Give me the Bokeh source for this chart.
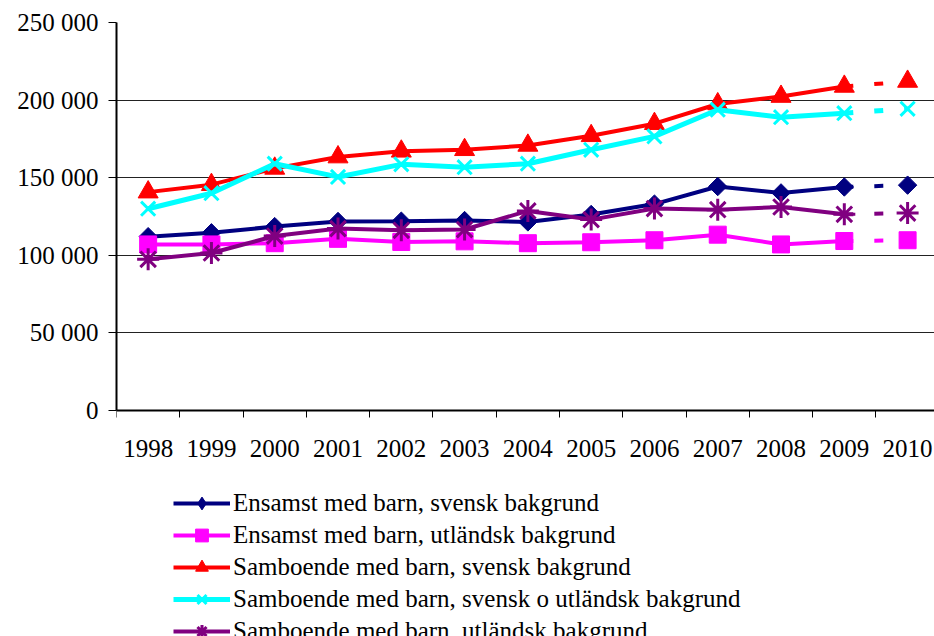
from bokeh.plotting import figure
from bokeh.models import FixedTicker, Legend, LegendItem, Range1d
from bokeh.embed import file_html
from bokeh.resources import INLINE
import math

years = ["1998", "1999", "2000", "2001", "2002", "2003", "2004", "2005", "2006", "2007", "2008", "2009", "2010"]

ensamst_svensk = [112000, 114500, 118500, 121800, 122000, 122400, 121500, 126300, 133000, 144300, 140200, 144000, 145200]
ensamst_utl = [107000, 107000, 107800, 110600, 108600, 109000, 107800, 108400, 109700, 113300, 107000, 109200, 109700]
sambo_svensk = [140700, 145500, 156000, 163300, 167000, 168000, 170800, 177000, 184800, 197500, 202300, 208800, 212000]
sambo_blandad = [130000, 140000, 159000, 150500, 158600, 156800, 159000, 168000, 176600, 193800, 189000, 191600, 194400]
sambo_utl = [97400, 101500, 112400, 117200, 116100, 116600, 128600, 123000, 130100, 129400, 131100, 126400, 127200]

series_names = [
    "Ensamst med barn, svensk bakgrund",
    "Ensamst med barn, utländsk bakgrund",
    "Samboende med barn, svensk bakgrund",
    "Samboende med barn, svensk o utländsk bakgrund",
    "Samboende med barn, utländsk bakgrund",
]
series_values = [ensamst_svensk, ensamst_utl, sambo_svensk, sambo_blandad, sambo_utl]

y_ticks = [0, 50000, 100000, 150000, 200000, 250000]
y_labels = ["0", "50 000", "100 000", "150 000", "200 000", "250 000"]

colors = ["#000080", "#FF00FF", "#FF0000", "#00FFFF", "#800080"]
markers = ["square", "square", "triangle", "x", "asterisk"]
legend_markers = ["diamond", "square", "triangle", "x", "asterisk"]
angles = [math.pi / 4, 0, 0, 0, 0]
sizes = [13, 17, 20, 20, 22]
line_widths = [4, 4, 4, 5, 4]
marker_lw = [1, 1, 1, 3, 3]

FONT = "Liberation Serif"

# layout (pixels)
W, H = 934, 636
FRAME_LEFT, FRAME_TOP = 116, 22
ZERO_Y = 410  # pixel row of the value 0
px_per_val = (ZERO_Y - FRAME_TOP) / 250000
y_start = -(H - ZERO_Y) / px_per_val

n = len(years)
xs = [i + 0.5 for i in range(n)]

p = figure(width=W, height=H, output_backend="svg", toolbar_location=None,
           x_range=Range1d(0, 12.925), y_range=Range1d(y_start, 250000),
           min_border_left=FRAME_LEFT, min_border_right=0, min_border_top=FRAME_TOP, min_border_bottom=0)
p.outline_line_color = None
p.background_fill_color = "white"
p.border_fill_color = "white"

# y axis
p.yaxis.ticker = FixedTicker(ticks=y_ticks)
p.yaxis.bounds = (0, 250000)
p.yaxis.major_label_overrides = {t: l for t, l in zip(y_ticks, y_labels)}
p.yaxis.major_label_text_font = FONT
p.yaxis.major_label_text_font_size = "25px"
p.yaxis.major_label_text_color = "black"
p.yaxis.major_tick_out = 8
p.yaxis.major_tick_in = 0
p.yaxis.minor_tick_line_color = None
p.yaxis.major_label_standoff = 10
p.yaxis.axis_line_width = 2
p.yaxis.axis_line_color = "black"
p.yaxis.major_tick_line_color = "black"

# x axis, drawn at the value 0
p.xaxis.fixed_location = 0
p.xaxis.ticker = FixedTicker(ticks=xs, minor_ticks=list(range(n)))
p.xaxis.major_label_overrides = {x: y for x, y in zip(xs, years)}
p.xaxis.major_label_text_font = FONT
p.xaxis.major_label_text_font_size = "25px"
p.xaxis.major_label_text_color = "black"
p.xaxis.major_tick_out = 0
p.xaxis.major_tick_in = 0
p.xaxis.major_tick_line_color = None
p.xaxis.minor_tick_out = 7
p.xaxis.minor_tick_in = 0
p.xaxis.minor_tick_line_color = "black"
p.xaxis.major_label_standoff = 22
p.xaxis.axis_line_width = 2
p.xaxis.axis_line_color = "black"

p.xgrid.grid_line_color = None
p.ygrid.grid_line_color = "#222222"
p.ygrid.grid_line_width = 1

items = []
for name, vals, c, m, lm, a, s, lw, mlw in zip(series_names, series_values, colors, markers, legend_markers,
                                                angles, sizes, line_widths, marker_lw):
    ln = p.line(xs[:-1], vals[:-1], line_color=c, line_width=lw)
    p.line(xs[-2:], vals[-2:], line_color=c, line_width=lw, line_dash="9 21")
    sc = p.scatter(xs, vals, marker=m, angle=a, size=s, fill_color=c, line_color=c, line_width=mlw)
    if lm != m:
        # marker shape used for the legend key only (drawn with size 0 in the plot)
        key = p.scatter(xs, vals, marker=lm, size=0, fill_color=c, line_color=c, line_width=mlw)
        items.append(LegendItem(label=name, renderers=[ln, key]))
    else:
        items.append(LegendItem(label=name, renderers=[ln, sc]))

ROW = 32
legend_top = 503 - ROW // 2
legend_h = 5 * ROW
legend = Legend(items=items, location=(173 - FRAME_LEFT, H - (legend_top + legend_h)), orientation="vertical",
                label_text_font=FONT, label_text_font_size="25px", label_text_color="black",
                glyph_width=57, glyph_height=ROW, label_height=ROW, spacing=0,
                padding=0, margin=0, label_standoff=3,
                border_line_color=None, background_fill_alpha=0)
p.add_layout(legend, "center")

open("out.html", "w").write(file_html(p, INLINE))
